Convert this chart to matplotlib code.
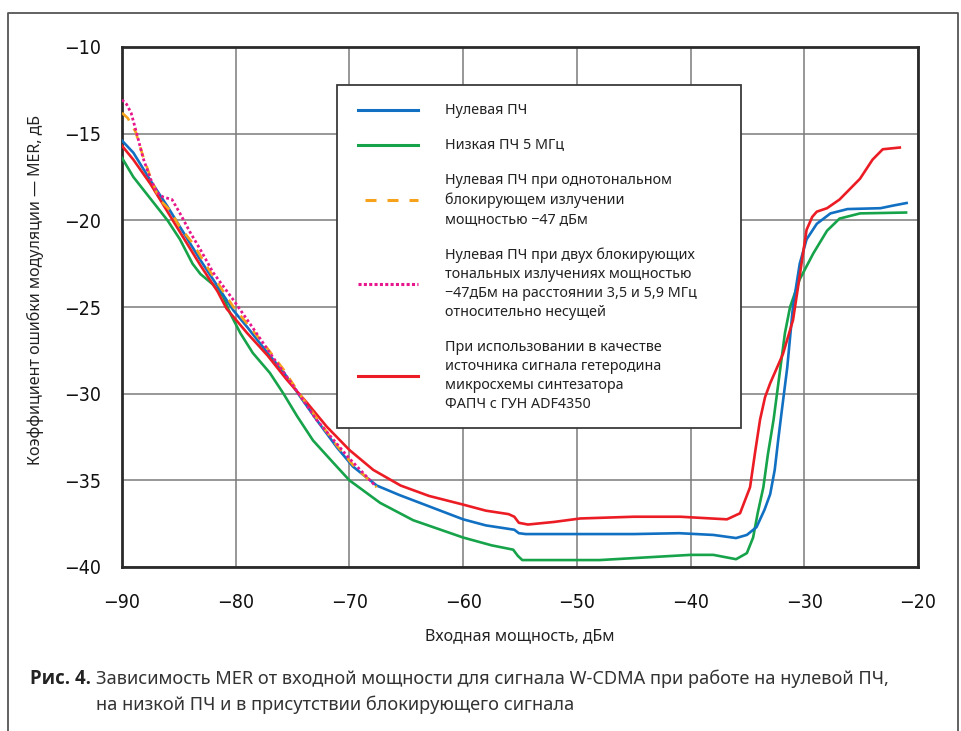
import matplotlib
matplotlib.use("Agg")
import matplotlib.pyplot as plt
from matplotlib.lines import Line2D
from matplotlib.patches import Rectangle

# -----------------------------------------------------
# Data
# -----------------------------------------------------
blue_x = [-90, -89, -87.5, -86, -84.6, -83.1, -81.6, -80.2, -79, -77.2, -75.8, -74.3,
          -72.9, -71.1, -69.7, -67.6, -65.6, -63, -60, -58, -56, -55.5, -55.1, -54.5,
          -50, -45, -41, -38, -36, -35.05, -34.2, -33.5, -33.0, -32.6, -32.3, -32.0,
          -31.5, -31.0, -30.4, -29.8, -28.9, -27.7, -26.2, -23.3, -22.2, -21.0]
blue_y = [-15.4, -16.1, -17.7, -19.2, -20.7, -22.3, -23.8, -25.2, -26.15, -27.65, -28.75, -30.2,
          -31.5, -33.1, -34.2, -35.3, -35.85, -36.5, -37.25, -37.6, -37.8, -37.85, -38.05, -38.1,
          -38.1, -38.1, -38.05, -38.15, -38.33, -38.15, -37.7, -36.7, -35.8, -34.4, -32.7, -31.1,
          -28.5, -25.0, -22.5, -21.1, -20.2, -19.6, -19.35, -19.3, -19.15, -19.0]

green_x = [-90, -89, -88.1, -87.2, -86, -84.9, -83.8, -83.1, -82, -81.1, -80.5, -79.6,
           -78.5, -77, -75.8, -74.6, -73.2, -71.4, -70, -67.3, -64.4, -60, -57.5, -55.6,
           -55.2, -54.8, -52, -48, -44, -40, -38, -36, -35.05, -34.5, -34.1, -33.6,
           -33.2, -32.7, -32.1, -31.7, -31.25, -30.4, -29.2, -28, -26.9, -25.1, -21.05]
green_y = [-16.4, -17.5, -18.25, -19.0, -20.0, -21.1, -22.5, -23.1, -23.7, -24.4, -25.35, -26.5,
           -27.65, -28.8, -30.0, -31.3, -32.7, -34.0, -35.0, -36.3, -37.3, -38.3, -38.75, -39.0,
           -39.35, -39.6, -39.6, -39.6, -39.45, -39.3, -39.3, -39.55, -39.2, -38.3, -36.9, -35.4,
           -33.5, -31.5, -28.5, -26.5, -25.0, -23.4, -21.9, -20.6, -19.9, -19.6, -19.55]

orange_x = [-90, -89.5, -88.8, -88.15, -87.5, -86.7, -85.8, -84.9, -83.8, -82.5, -81.4,
            -80.2, -78.7, -77.2, -75.8, -74.3, -72.9, -71.1, -69.7, -67.6]
orange_y = [-13.8, -14.1, -14.9, -16.3, -17.5, -18.8, -19.4, -20.4, -21.3, -22.7, -23.8,
            -25.0, -26.2, -27.4, -28.6, -30.1, -31.4, -33.0, -34.1, -35.4]

pink_x = [-90, -89.6, -89.2, -88.7, -88.15, -87.5, -86.9, -86.4, -85.6, -84.9, -84.0,
          -83.1, -82.0, -80.2, -78.5, -77.0, -75.2, -72.9, -70.2, -67.75]
pink_y = [-13.05, -13.3, -13.8, -15.0, -16.4, -17.6, -18.4, -18.65, -18.8, -19.6, -20.7,
          -21.7, -23.0, -24.6, -26.2, -27.65, -29.3, -31.5, -33.6, -35.3]

red_x = [-90, -89, -87.5, -86, -84.6, -83.1, -81.6, -80.8, -79, -77.2, -75.5, -73.7,
         -72, -70, -67.9, -65.5, -63, -60, -58, -56, -55.5, -55.1, -54.3, -52,
         -49.7, -45, -40.9, -36.8, -35.65, -34.77, -34.33, -33.89, -33.45, -33.0, -32.4, -31.87,
         -30.99, -30.55, -30.2, -29.8, -29.3, -28.9, -28.0, -26.9, -25.1, -24.0, -23.1, -21.6]
red_y = [-15.7, -16.5, -17.9, -19.5, -21.0, -22.6, -24.1, -25.1, -26.5, -27.8, -29.2, -30.55,
         -31.9, -33.25, -34.4, -35.3, -35.9, -36.4, -36.75, -36.95, -37.1, -37.45, -37.55, -37.4,
         -37.2, -37.1, -37.1, -37.25, -36.9, -35.4, -33.4, -31.5, -30.2, -29.4, -28.5, -27.7,
         -25.75, -23.85, -22.3, -20.55, -19.8, -19.5, -19.3, -18.8, -17.6, -16.5, -15.9, -15.8]

x_ticks = [-90, -80, -70, -60, -50, -40, -30, -20]
y_ticks = [-40, -35, -30, -25, -20, -15, -10]

legend_labels = [
    "Нулевая ПЧ",
    "Низкая ПЧ 5 МГц",
    "Нулевая ПЧ при однотональном\nблокирующем излучении\nмощностью −47 дБм",
    "Нулевая ПЧ при двух блокирующих\nтональных излучениях мощностью\n"
    "−47дБм на расстоянии 3,5 и 5,9 МГц\nотносительно несущей",
    "При использовании в качестве\nисточника сигнала гетеродина\n"
    "микросхемы синтезатора\nФАПЧ с ГУН ADF4350",
]

x_label = "Входная мощность, дБм"
y_label = "Коэффициент ошибки модуляции — MER, дБ"
caption_bold = "Рис. 4."
caption_line1 = "Зависимость MER от входной мощности для сигнала W-CDMA при работе на нулевой ПЧ,"
caption_line2 = "на низкой ПЧ и в присутствии блокирующего сигнала"

# -----------------------------------------------------
# Styles
# -----------------------------------------------------
C_BLUE = "#1170c2"
C_GREEN = "#16a34a"
C_ORANGE = "#f7a21b"
C_PINK = "#e8168c"
C_RED = "#ec1c24"

TEXT_FONT = ["Noto Sans", "DejaVu Sans"]
BOLD_FONT = ["Open Sans", "Roboto", "DejaVu Sans"]
TICK_FONT = ["Liberation Sans Narrow", "DejaVu Sans"]

W, H = 962, 731
AX_L, AX_R, AX_T, AX_B = 122, 918, 47, 567


def fig_xy(x, y):
    return x / W, 1 - y / H


def ax_xy(x, y):
    return (x - AX_L) / (AX_R - AX_L), (AX_B - y) / (AX_B - AX_T)


fig = plt.figure(figsize=(W / 100, H / 100), dpi=100)
ax = fig.add_axes([AX_L / W, 1 - AX_B / H, (AX_R - AX_L) / W, (AX_B - AX_T) / H])

lw = 1.9
ax.plot(blue_x, blue_y, color=C_BLUE, lw=lw, zorder=4)
ax.plot(green_x, green_y, color=C_GREEN, lw=lw, zorder=3)
ax.plot(orange_x, orange_y, color=C_ORANGE, lw=lw, ls=(0, (4, 3.5)), zorder=5)
ax.plot(pink_x, pink_y, color=C_PINK, lw=2.0, ls=(0, (1, 0.9)), zorder=6)
ax.plot(red_x, red_y, color=C_RED, lw=lw, zorder=4)

ax.set_xlim(-90, -20)
ax.set_ylim(-40, -10)
ax.set_xticks(x_ticks)
ax.set_yticks(y_ticks)
ax.grid(True, color="#7a7a7a", lw=1.1, zorder=0)
ax.set_axisbelow(True)
for sp in ax.spines.values():
    sp.set_linewidth(2.0)
    sp.set_color("#2a2a2a")
ax.tick_params(length=0, labelsize=14, colors="#111111")
ax.tick_params(axis="x", pad=19)
ax.tick_params(axis="y", pad=15)
for t in ax.get_xticklabels() + ax.get_yticklabels():
    t.set_family(TICK_FONT)
    t.set_fontstretch("condensed")

ax.set_xlabel(x_label, family=TEXT_FONT, fontsize=11.5, color="#222222", va="center")
ax.xaxis.set_label_coords(*ax_xy(520, 636))
ax.set_ylabel(y_label, family=TEXT_FONT, fontsize=11.5, color="#222222", va="center")
ax.yaxis.set_label_coords(*ax_xy(35, 290))

# -----------------------------------------------------
# Legend box (drawn by hand to match the layout)
# -----------------------------------------------------
bx0, by0 = ax_xy(337, 428)
bx1, by1 = ax_xy(741, 85)
ax.add_patch(Rectangle((bx0, by0), bx1 - bx0, by1 - by0, transform=ax.transAxes,
                       facecolor="white", edgecolor="#3a3a3a", lw=1.3, zorder=10))

legend_y = [110, 145, 200, 283.5, 376]
legend_styles = [
    dict(color=C_BLUE, lw=2.2, ls="-"),
    dict(color=C_GREEN, lw=2.2, ls="-"),
    dict(color=C_ORANGE, lw=2.2, ls=(0, (3.6, 3.6))),
    dict(color=C_PINK, lw=2.2, ls=(0, (1, 0.75))),
    dict(color=C_RED, lw=2.2, ls="-"),
]
for label, yy, st in zip(legend_labels, legend_y, legend_styles):
    lx0, ly = ax_xy(358, yy)
    lx1, _ = ax_xy(418, yy)
    if st["color"] == C_ORANGE:
        lx0, _ = ax_xy(365, yy)
    ax.add_line(Line2D([lx0, lx1], [ly, ly], transform=ax.transAxes, zorder=11, **st))
    tx, ty = ax_xy(445, yy)
    ax.text(tx, ty, label, transform=ax.transAxes, ha="left", va="center",
            fontsize=10.3, family=TEXT_FONT, color="#222222", linespacing=1.38, zorder=11)

# -----------------------------------------------------
# Outer frame and caption
# -----------------------------------------------------
fx, fy = zip(*[fig_xy(8, 731), fig_xy(8, 13), fig_xy(958, 13), fig_xy(958, 731)])
fig.add_artist(Line2D(fx, fy, transform=fig.transFigure, color="#555555", lw=1.3))

fig.text(*fig_xy(30, 679), caption_bold, family=BOLD_FONT, fontsize=13.4,
         fontweight="bold", color="#222222", va="center")
fig.text(*fig_xy(96, 679), caption_line1, family=TEXT_FONT, fontsize=13.1,
         color="#333333", va="center")
fig.text(*fig_xy(96, 705), caption_line2, family=TEXT_FONT, fontsize=13.1,
         color="#333333", va="center")

fig.savefig("out.png", dpi=100)
